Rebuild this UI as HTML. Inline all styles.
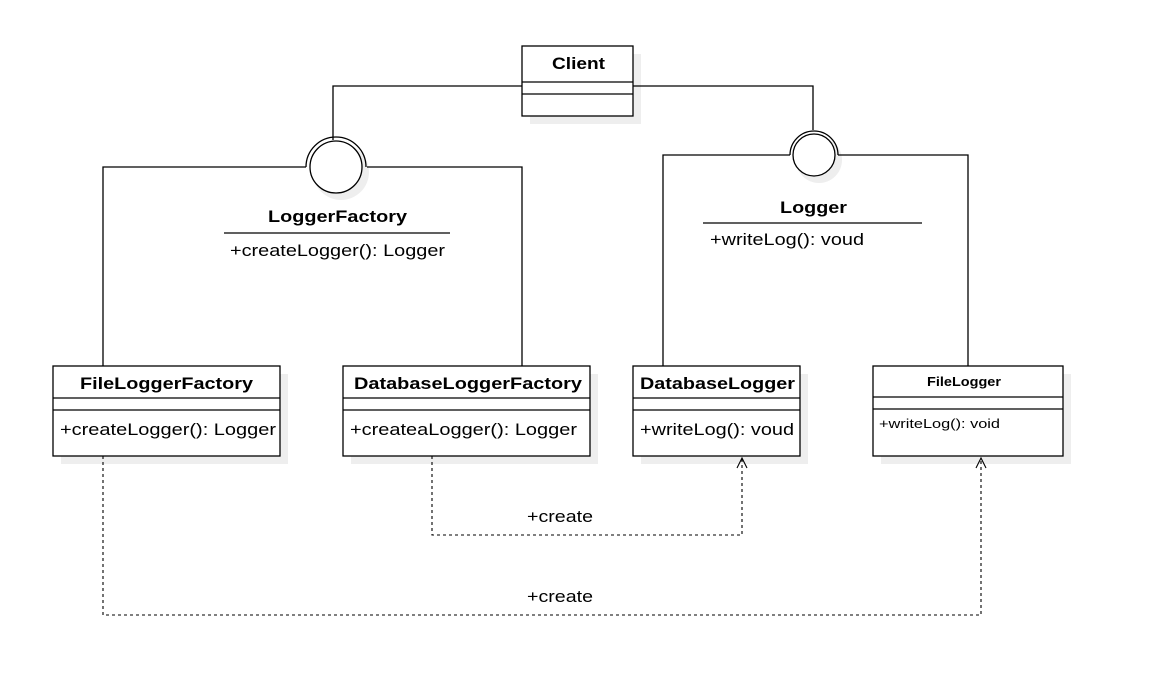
<!DOCTYPE html>
<html><head><style>body{margin:0;background:#fff}svg{display:block}</style></head><body>
<svg width="1158" height="683" xmlns="http://www.w3.org/2000/svg" font-family="Liberation Sans, sans-serif">
<g fill="#eee">
<rect x="530" y="54" width="111" height="70"/>
<rect x="61" y="374" width="227" height="90"/>
<rect x="351" y="374" width="247" height="90"/>
<rect x="641" y="374" width="167" height="90"/>
<rect x="881" y="374" width="190" height="90"/>
<circle cx="341" cy="172" r="28"/>
<circle cx="819" cy="160" r="23"/>
</g>
<g stroke="#000" stroke-width="1.3" fill="none">
<path d="M522 86H333V140"/>
<path d="M633 86H813V130"/>
<path d="M103 366V167H306M367 167H522V366"/>
<path d="M663 366V155H790M838 155H968V366"/>
<circle cx="336" cy="167" r="26" fill="#fff"/>
<path d="M306 167A30 30 0 0 1 366 167"/>
<circle cx="814" cy="155" r="21" fill="#fff"/>
<path d="M790 155A24 24 0 0 1 838 155"/>
<line x1="224" y1="233" x2="450" y2="233"/>
<line x1="703" y1="223" x2="922" y2="223"/>
<rect x="522" y="46" width="111" height="70" fill="#fff"/>
<path d="M522 82H633M522 94H633"/>
<rect x="53" y="366" width="227" height="90" fill="#fff"/>
<path d="M53 398H280M53 410H280"/>
<rect x="343" y="366" width="247" height="90" fill="#fff"/>
<path d="M343 398H590M343 410H590"/>
<rect x="633" y="366" width="167" height="90" fill="#fff"/>
<path d="M633 398H800M633 410H800"/>
<rect x="873" y="366" width="190" height="90" fill="#fff"/>
<path d="M873 397H1063M873 409H1063"/>
<path d="M432 456V535H742V458M103 456V615H981V458" stroke-dasharray="3,3" stroke-width="1.1"/>
<path d="M737 468L742 458L747 468M976 468L981 458L986 468" stroke-width="1.1"/>
</g>
<g font-size="17" fill="#000" lengthAdjust="spacingAndGlyphs">
<text x="552" y="69" textLength="53" lengthAdjust="spacingAndGlyphs" font-weight="bold">Client</text>
<text x="268" y="222" textLength="139" lengthAdjust="spacingAndGlyphs" font-weight="bold">LoggerFactory</text>
<text x="230" y="256" textLength="215" lengthAdjust="spacingAndGlyphs">+createLogger(): Logger</text>
<text x="780" y="213" textLength="67" lengthAdjust="spacingAndGlyphs" font-weight="bold">Logger</text>
<text x="710" y="245" textLength="154" lengthAdjust="spacingAndGlyphs">+writeLog(): voud</text>
<text x="80" y="389" textLength="173" lengthAdjust="spacingAndGlyphs" font-weight="bold">FileLoggerFactory</text>
<text x="60" y="435" textLength="216" lengthAdjust="spacingAndGlyphs">+createLogger(): Logger</text>
<text x="354" y="389" textLength="228" lengthAdjust="spacingAndGlyphs" font-weight="bold">DatabaseLoggerFactory</text>
<text x="350" y="435" textLength="227" lengthAdjust="spacingAndGlyphs">+createaLogger(): Logger</text>
<text x="640" y="389" textLength="155" lengthAdjust="spacingAndGlyphs" font-weight="bold">DatabaseLogger</text>
<text x="640" y="435" textLength="154" lengthAdjust="spacingAndGlyphs">+writeLog(): voud</text>
<text x="927" y="386" textLength="74" lengthAdjust="spacingAndGlyphs" font-weight="bold" font-size="13">FileLogger</text>
<text x="879" y="428" textLength="121" lengthAdjust="spacingAndGlyphs" font-size="13">+writeLog(): void</text>
<text x="527" y="522" textLength="66" lengthAdjust="spacingAndGlyphs">+create</text>
<text x="527" y="602" textLength="66" lengthAdjust="spacingAndGlyphs">+create</text>
</g>
</svg>
</body></html>
